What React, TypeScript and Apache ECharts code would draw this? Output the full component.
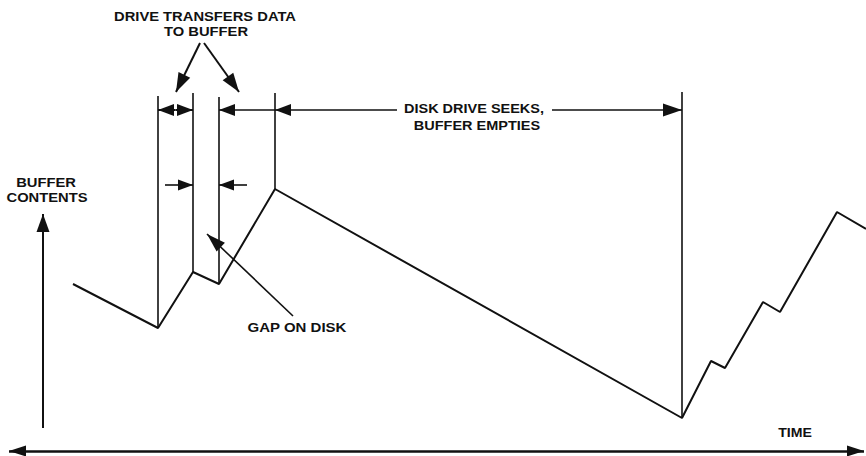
import React, { useEffect, useRef } from "react";
import * as echarts from "echarts";

// Buffer contents over time (arbitrary units; x = time, y = buffer level)
const timeValues = [73, 158, 193, 219, 275, 682, 711, 725, 763, 780, 837, 866];
const bufferValues = [172, 128, 184, 172, 267, 38, 95, 88, 154, 144, 244, 227];

// Transfer boundary markers (vertical lines): time, top level
const markerTimes = [158, 193, 219, 275, 682];
const markerTops = [360, 363, 359, 363, 364];

// Annotation levels
const spanLevel = 346; // level of the horizontal span arrows
const gapLevel = 271; // level of the small gap arrows
const axisTimeRange = [9, 864];
const axisLevel = 5;
const contentsAxisTime = 43;
const contentsAxisRange = [28, 242];

const BLACK = "#111";
const FONT = "'Liberation Sans', Arial, sans-serif";

function levelAt(t: number): number {
  for (let i = 0; i < timeValues.length; i++) {
    if (timeValues[i] === t) return bufferValues[i];
  }
  return 0;
}

type Pt = [number, number];
function arrowLine(from: Pt, to: Pt, headFrom: boolean, headTo: boolean, size: [number, number], width = 1.5) {
  return [
    {
      coord: from,
      symbol: headFrom ? "triangle" : "none",
      symbolSize: size,
      symbolOffset: [0, size[1] / 2],
      lineStyle: { color: BLACK, width, type: "solid" },
    },
    {
      coord: to,
      symbol: headTo ? "triangle" : "none",
      symbolSize: size,
      symbolOffset: [0, size[1] / 2],
    },
  ];
}

export default function App() {
  const ref = useRef<HTMLDivElement>(null);
  useEffect(() => {
    if (!ref.current) return;
    const chart = echarts.init(ref.current, undefined, { renderer: "svg" });

    const marks: any[] = [];
    // vertical boundary lines
    markerTimes.forEach((t, i) => {
      marks.push(arrowLine([t, markerTops[i]], [t, levelAt(t)], false, false, [1, 1], 1.6));
    });
    const head: [number, number] = [12, 16];
    // double arrow 158 <-> 193
    marks.push(arrowLine([175.5, spanLevel], [158, spanLevel], false, true, head, 2));
    marks.push(arrowLine([175.5, spanLevel], [193, spanLevel], false, true, head, 2));
    // 219 <- 275
    marks.push(arrowLine([219, spanLevel], [275, spanLevel], true, false, head, 1.6));
    // seek span 275 <- text -> 682
    marks.push(arrowLine([275, spanLevel], [397, spanLevel], true, false, head, 1.6));
    marks.push(arrowLine([552, spanLevel], [682, spanLevel], false, true, [13, 19], 1.6));
    // gap arrows
    marks.push(arrowLine([165, gapLevel], [193, gapLevel], false, true, [11, 15], 1.6));
    marks.push(arrowLine([247, gapLevel], [219, gapLevel], false, true, [11, 15], 1.6));
    // pointers from label "TO BUFFER"
    marks.push(arrowLine([200, 413], [176, 364], false, true, [13, 19], 2));
    marks.push(arrowLine([204, 413], [239, 364], false, true, [13, 19], 2));
    // pointer from "GAP ON DISK"
    marks.push(arrowLine([293, 140], [207, 222], false, true, [12, 19], 1.6));
    // axes
    marks.push(arrowLine([axisTimeRange[0], axisLevel], [axisTimeRange[1], axisLevel], true, true, [11, 17], 2.6));
    marks.push(arrowLine([contentsAxisTime, contentsAxisRange[0]], [contentsAxisTime, contentsAxisRange[1]], false, true, [13, 18], 2));

    const text = (t: string, x: number, y: number, sx = 1.18) => ({
      type: "text",
      x,
      y,
      scaleX: sx,
      style: {
        text: t,
        fill: BLACK,
        font: `bold 12.5px ${FONT}`,
        textAlign: "center",
        textVerticalAlign: "middle",
      },
    });

    chart.setOption({
      animation: false,
      grid: { left: 0, right: 0, top: 0, bottom: 0 },
      xAxis: { type: "value", min: 0, max: 866, show: false },
      yAxis: { type: "value", min: 0, max: 456, show: false },
      series: [
        {
          type: "line",
          data: timeValues.map((t, i) => [t, bufferValues[i]]),
          symbol: "none",
          lineStyle: { color: BLACK, width: 2 },
          silent: true,
          markLine: {
            silent: true,
            animation: false,
            label: { show: false },
            emphasis: { disabled: true },
            symbol: "none",
            itemStyle: { color: BLACK },
            data: marks,
          },
        },
      ],
      graphic: [
        text("DRIVE TRANSFERS DATA", 205, 17),
        text("TO BUFFER", 206, 32),
        text("DISK DRIVE SEEKS,", 474, 109, 1.16),
        text("BUFFER EMPTIES", 477, 126, 1.16),
        text("BUFFER", 46, 183),
        text("CONTENTS", 47, 198),
        text("GAP ON DISK", 297, 328, 1.2),
        text("TIME", 795, 433, 1.13),
      ],
    });
    return () => chart.dispose();
  }, []);
  return (
    <div
      ref={ref}
      style={{ position: "absolute", left: 0, top: 0, width: 866, height: 456, background: "#fff" }}
    />
  );
}
